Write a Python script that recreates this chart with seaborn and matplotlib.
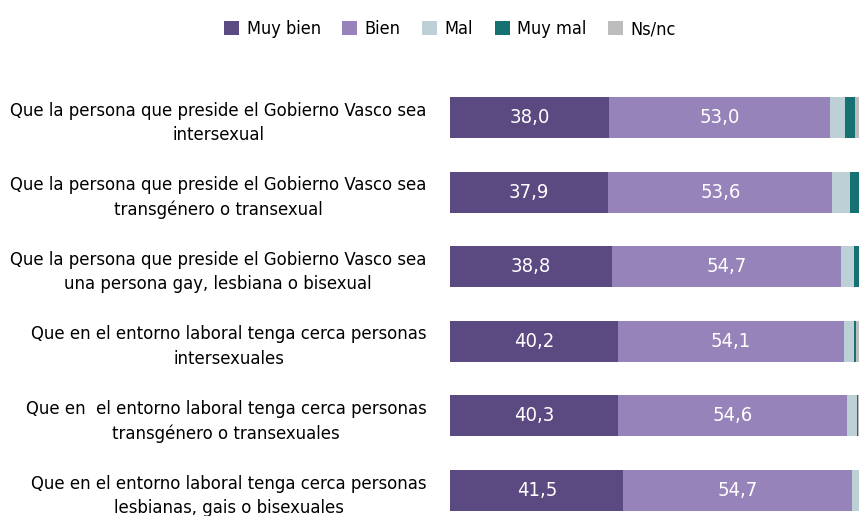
import numpy as np
import pandas as pd
import matplotlib
matplotlib.use("Agg")
import matplotlib.pyplot as plt
import seaborn as sns
from matplotlib.patches import Patch
from matplotlib import font_manager as fm

categories = [
    "Que la persona que preside el Gobierno Vasco sea\nintersexual",
    "Que la persona que preside el Gobierno Vasco sea\ntransgénero o transexual",
    "Que la persona que preside el Gobierno Vasco sea\nuna persona gay, lesbiana o bisexual",
    "Que en el entorno laboral tenga cerca personas\nintersexuales",
    "Que en  el entorno laboral tenga cerca personas\ntransgénero o transexuales",
    "Que en el entorno laboral tenga cerca personas\nlesbianas, gais o bisexuales",
]
series_names = ["Muy bien", "Bien", "Mal", "Muy mal", "Ns/nc"]
muy_bien = [38.0, 37.9, 38.8, 40.2, 40.3, 41.5]
bien = [53.0, 53.6, 54.7, 54.1, 54.6, 54.7]
mal = [3.6, 4.2, 3.1, 2.3, 2.4, 2.5]
muy_mal = [2.4, 2.6, 1.9, 0.6, 0.4, 0.5]
ns_nc = [3.0, 1.7, 1.5, 2.8, 2.3, 0.8]

colors = ["#5B4A82", "#9683BA", "#BDD0D6", "#167272", "#BDBDBD"]

sns.set_style("white")

cond_path = None
for f in sorted(fm.fontManager.ttflist, key=lambda f: f.fname):
    n = f.fname.lower()
    if ("narrow" in n or "condensed" in n) and "bold" not in n and "italic" not in n \
            and "oblique" not in n and "light" not in n and "semi" not in n and "extra" not in n \
            and "thin" not in n and "medium" not in n and "black" not in n:
        cond_path = f.fname
        break

if cond_path:
    SCALE = 1.0
    def FP(size):
        return fm.FontProperties(fname=cond_path, size=size)
else:
    SCALE = 0.8
    def FP(size):
        return fm.FontProperties(family="DejaVu Sans", size=size)

plt.rcParams["font.family"] = ["DejaVu Sans"]
plt.rcParams["text.color"] = "black"

W, H = 859, 516
fig = plt.figure(figsize=(W / 100, H / 100), dpi=100)

row_top = 117.5 - 37.3
row_bot = 490.5 + 37.3
ax = fig.add_axes([450 / W, 1 - row_bot / H, 418 / W, (row_bot - row_top) / H])

values = [muy_bien, bien, mal, muy_mal, ns_nc]
df = pd.DataFrame({"cat": categories})
cum = np.zeros(len(categories))
cums = []
for v in values:
    cum = cum + np.array(v)
    cums.append(cum.copy())

for name, c, col in reversed(list(zip(series_names, cums, colors))):
    df["val"] = c
    sns.barplot(data=df, x="val", y="cat", order=categories, color=col,
                orient="h", width=0.55, linewidth=0, saturation=1, ax=ax)

starts = [np.zeros(len(categories)), np.array(muy_bien)]
for vals, st in zip([muy_bien, bien], starts):
    for i, (v, s) in enumerate(zip(vals, st)):
        ax.text(s + v / 2, i, f"{v:.1f}".replace(".", ","), ha="center",
                va="center", color="white", fontproperties=FP(14.5 * SCALE))

ax.set_xlim(0, 100)
ax.set_ylim(5.5, -0.5)
ax.set_xlabel("")
ax.set_ylabel("")
ax.set_xticks([])
ax.tick_params(axis="y", length=0, pad=17)
ax.set_yticks(range(len(categories)))
ax.set_yticklabels(categories, multialignment="center", fontproperties=FP(13.2 * SCALE),
                   color="black", linespacing=1.45)
for s in ax.spines.values():
    s.set_visible(False)

handles = [Patch(facecolor=c, edgecolor="none") for c in colors]
leg = fig.legend(handles, series_names, loc="center", bbox_to_anchor=(450 / W, 1 - 29 / H),
                 ncol=5, frameon=False, handlelength=0.83, handleheight=0.83,
                 handletextpad=0.4, columnspacing=1.2, prop=FP(13 * SCALE))
for t in leg.get_texts():
    t.set_color("black")

fig.savefig("out.png", dpi=100)
